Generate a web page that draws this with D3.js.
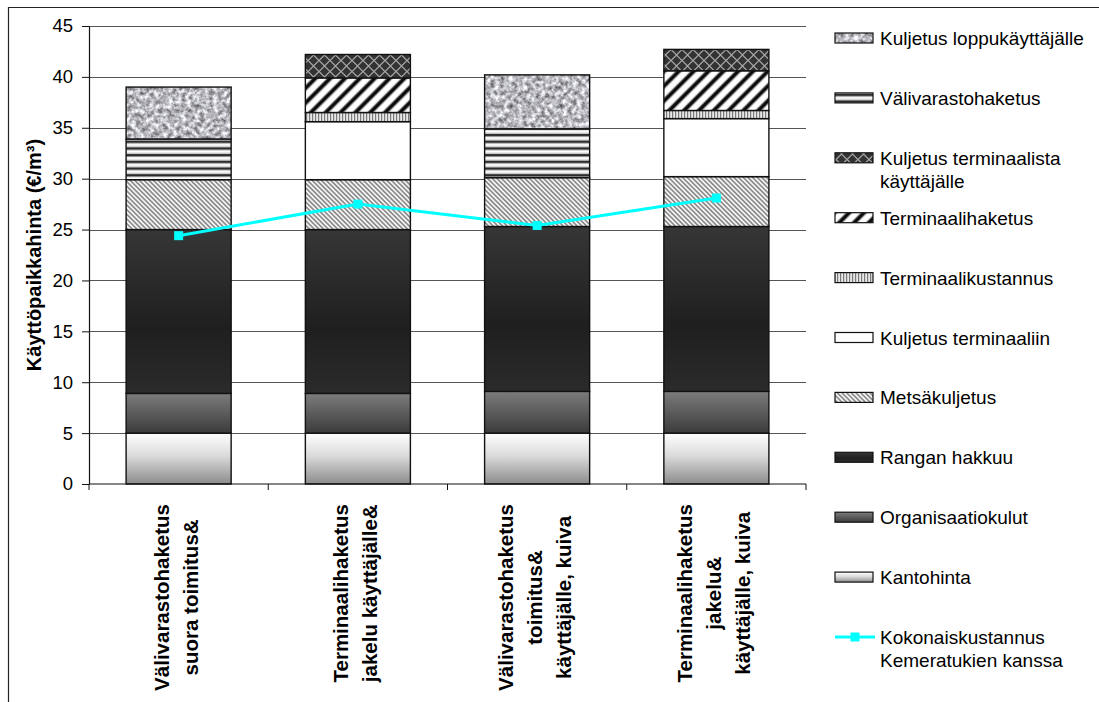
<!DOCTYPE html>
<html>
<head>
<meta charset="utf-8">
<script src="https://cdn.jsdelivr.net/npm/d3@7"></script>
<style>
  html, body { margin: 0; padding: 0; background: #fff; }
  svg { display: block; font-family: "Liberation Sans", Arial, sans-serif; }
</style>
</head>
<body>
<svg id="chart" width="1099" height="702"></svg>
<script>
// Supply chain alternatives (category labels, one entry per line)
const categories = [
  ["Välivarastohaketus", "suora toimitus&"],
  ["Terminaalihaketus", "jakelu käyttäjälle&"],
  ["Välivarastohaketus", "toimitus&", "käyttäjälle, kuiva"],
  ["Terminaalihaketus", "jakelu&", "käyttäjälle, kuiva"]
];

// Cost components, €/m³ (stacked bottom to top)
const kantohinta            = [5.0, 5.0, 5.0, 5.0];
const organisaatiokulut     = [3.9, 3.9, 4.1, 4.1];
const ranganHakkuu          = [16.1, 16.1, 16.2, 16.2];
const metsakuljetus         = [4.9, 4.9, 4.8, 4.9];
const kuljetusTerminaaliin  = [0, 5.7, 0, 5.7];
const terminaalikustannus   = [0, 0.9, 0, 0.8];
const terminaalihaketus     = [0, 3.4, 0, 3.9];
const kuljetusTerminaalista = [0, 2.3, 0, 2.1];
const valivarastohaketus    = [4.0, 0, 4.8, 0];
const kuljetusLoppu         = [5.1, 0, 5.3, 0];

// Total cost including Kemera subsidies
const kokonaiskustannus     = [24.4, 27.5, 25.4, 28.1];

const seriesNames = [
  "Kantohinta", "Organisaatiokulut", "Rangan hakkuu", "Metsäkuljetus",
  "Kuljetus terminaaliin", "Terminaalikustannus", "Terminaalihaketus",
  "Kuljetus terminaalista käyttäjälle", "Välivarastohaketus", "Kuljetus loppukäyttäjälle"
];
const seriesValues = [
  kantohinta, organisaatiokulut, ranganHakkuu, metsakuljetus,
  kuljetusTerminaaliin, terminaalikustannus, terminaalihaketus,
  kuljetusTerminaalista, valivarastohaketus, kuljetusLoppu
];
const lineName = "Kokonaiskustannus Kemeratukien kanssa";
const yTicks = [0, 5, 10, 15, 20, 25, 30, 35, 40, 45];
const yTitle = "Käyttöpaikkahinta (€/m³)";

// ---------- layout ----------
const svg = d3.select("#chart");
const plot = { left: 89, right: 806, top: 26, bottom: 484 };

const x = d3.scaleBand()
  .domain(d3.range(categories.length))
  .range([plot.left, plot.right])
  .paddingInner(0.414)
  .paddingOuter(0.207);

const y = d3.scaleLinear().domain([0, 45]).range([plot.bottom, plot.top]);

// ---------- fills ----------
const defs = svg.append("defs");

function vGrad(id, stops) {
  const g = defs.append("linearGradient").attr("id", id)
    .attr("x1", 0).attr("y1", 0).attr("x2", 0).attr("y2", 1);
  stops.forEach(([o, c]) => g.append("stop").attr("offset", o).attr("stop-color", c));
}
vGrad("g-kanto", [[0, "#ffffff"], [0.45, "#dadada"], [1, "#8c8c8c"]]);
vGrad("g-org", [[0, "#7c7c7c"], [1, "#3b3b3b"]]);
vGrad("g-rangan", [[0, "#363636"], [0.6, "#1f1f1f"], [1, "#2b2b2b"]]);

function stripes(id, size, angle, bands, bg) {
  const p = defs.append("pattern").attr("id", id)
    .attr("patternUnits", "userSpaceOnUse")
    .attr("width", size).attr("height", size)
    .attr("patternTransform", `rotate(${angle})`);
  p.append("rect").attr("width", size).attr("height", size).attr("fill", bg);
  bands.forEach(([bx, bw, c]) => p.append("rect")
    .attr("x", bx).attr("y", 0).attr("width", bw).attr("height", size).attr("fill", c));
  return p;
}
// fine "\" hatch
stripes("p-metsa", 3.3, -45, [[0, 1.6, "#8a8a8a"]], "#f4f4f4");
// thin vertical lines
stripes("p-tkust", 3, 0, [[0, 1.2, "#7a7a7a"]], "#e8e8e8");

// wide soft "/" stripes
const band = defs.append("linearGradient").attr("id", "g-band")
  .attr("x1", 0).attr("y1", 0).attr("x2", 1).attr("y2", 0);
[[0, "#fff"], [0.22, "#fff"], [0.42, "#0a0a0a"], [0.6, "#0a0a0a"], [0.8, "#fff"], [1, "#fff"]]
  .forEach(([o, c]) => band.append("stop").attr("offset", o).attr("stop-color", c));
const pth = defs.append("pattern").attr("id", "p-thak")
  .attr("patternUnits", "userSpaceOnUse").attr("width", 10.5).attr("height", 10.5)
  .attr("patternTransform", "rotate(45)");
pth.append("rect").attr("width", 10.5).attr("height", 10.5).attr("fill", "url(#g-band)");

// horizontal bands
const pv = defs.append("pattern").attr("id", "p-vali")
  .attr("patternUnits", "userSpaceOnUse").attr("width", 10).attr("height", 6.7);
[[0, 6.7, "#ffffff"], [0, 2, "#2c2c2c"], [2, 1, "#8a8a8a"], [5.3, 1.4, "#c4c4c4"]]
  .forEach(([yy, h, c]) => pv.append("rect").attr("x", 0).attr("y", yy)
    .attr("width", 10).attr("height", h).attr("fill", c));

// diamond lattice on dark
const pl = defs.append("pattern").attr("id", "p-lattice")
  .attr("patternUnits", "userSpaceOnUse").attr("width", 11).attr("height", 11);
pl.append("rect").attr("width", 11).attr("height", 11).attr("fill", "#333");
pl.append("path").attr("d", "M0,5.5 L5.5,0 L11,5.5 L5.5,11 Z")
  .attr("fill", "none").attr("stroke", "#aaaaaa").attr("stroke-width", 1.1);

// granite texture
const fg = defs.append("filter").attr("id", "f-granite")
  .attr("x", 0).attr("y", 0).attr("width", 1).attr("height", 1)
  .attr("color-interpolation-filters", "sRGB");
fg.append("feTurbulence").attr("type", "fractalNoise").attr("baseFrequency", 0.22)
  .attr("numOctaves", 3).attr("seed", 7).attr("result", "n");
fg.append("feColorMatrix").attr("in", "n").attr("type", "matrix")
  .attr("values", "1.05 0 0 0 0.2  1.05 0 0 0 0.2  1.08 0 0 0 0.21  0 0 0 0 1")
  .attr("result", "g");
fg.append("feComposite").attr("in", "g").attr("in2", "SourceGraphic").attr("operator", "in");

const fills = [
  { fill: "url(#g-kanto)" },
  { fill: "url(#g-org)" },
  { fill: "url(#g-rangan)" },
  { fill: "url(#p-metsa)" },
  { fill: "#ffffff" },
  { fill: "url(#p-tkust)" },
  { fill: "url(#p-thak)" },
  { fill: "url(#p-lattice)" },
  { fill: "url(#p-vali)" },
  { fill: "#ffffff", filter: "url(#f-granite)" }
];

// ---------- frame ----------
svg.append("path").attr("d", "M8.5,702 L8.5,7.5 L1099,7.5")
  .attr("fill", "none").attr("stroke", "#222").attr("stroke-width", 1.2);

// ---------- gridlines ----------
svg.append("g").selectAll("line").data(yTicks.filter(t => t > 0)).join("line")
  .attr("x1", plot.left).attr("x2", plot.right)
  .attr("y1", d => Math.round(y(d)) + 0.5).attr("y2", d => Math.round(y(d)) + 0.5)
  .attr("stroke", "#555").attr("stroke-width", 1);

// ---------- stacked bars ----------
const table = categories.map((c, i) => {
  const row = { idx: i };
  seriesNames.forEach((n, k) => row[n] = seriesValues[k][i]);
  return row;
});
const stacked = d3.stack().keys(seriesNames)(table);

const barsG = svg.append("g");
stacked.forEach((layer, k) => {
  const g = barsG.append("g");
  const segs = layer.filter(d => d[1] - d[0] > 0);
  g.selectAll("rect.f").data(segs).join("rect").attr("class", "f")
    .attr("x", d => x(d.data.idx)).attr("width", x.bandwidth())
    .attr("y", d => y(d[1])).attr("height", d => y(d[0]) - y(d[1]))
    .attr("fill", fills[k].fill)
    .attr("filter", fills[k].filter || null);
  g.selectAll("rect.o").data(segs).join("rect").attr("class", "o")
    .attr("x", d => x(d.data.idx)).attr("width", x.bandwidth())
    .attr("y", d => y(d[1])).attr("height", d => y(d[0]) - y(d[1]))
    .attr("fill", "none").attr("stroke", "#111").attr("stroke-width", 1.4);
});

// ---------- axes ----------
const yAxis = svg.append("g").attr("transform", `translate(${plot.left},0)`)
  .call(d3.axisLeft(y).tickValues(yTicks).tickSize(7).tickSizeOuter(0).tickPadding(9));
yAxis.select(".domain").attr("stroke", "#111").attr("stroke-width", 1.2);
yAxis.selectAll(".tick line").attr("stroke", "#111");
yAxis.selectAll(".tick text").attr("font-size", 18.5).attr("fill", "#000")
  .attr("font-family", "'Liberation Sans', Arial, sans-serif");

svg.append("line").attr("x1", plot.left).attr("x2", plot.right)
  .attr("y1", plot.bottom).attr("y2", plot.bottom)
  .attr("stroke", "#111").attr("stroke-width", 1.2);
svg.append("g").selectAll("line").data(d3.range(categories.length + 1)).join("line")
  .attr("x1", i => plot.left + i * x.step()).attr("x2", i => plot.left + i * x.step())
  .attr("y1", plot.bottom).attr("y2", plot.bottom + 6)
  .attr("stroke", "#111").attr("stroke-width", 1);

// category labels, rotated, lines centred on the longest line
const labelTop = 504, lineGap = 29;
const xl = svg.append("g").attr("font-weight", "bold").attr("font-size", 20.5).attr("fill", "#000");
categories.forEach((lines, i) => {
  const cx = x(i) + x.bandwidth() / 2 - 3;
  const texts = lines.map((t, j) => xl.append("text").text(t)
    .attr("text-anchor", "middle").attr("dominant-baseline", "central"));
  const maxW = d3.max(texts, t => t.node().getComputedTextLength());
  texts.forEach((t, j) => {
    const lx = cx + (j - (lines.length - 1) / 2) * lineGap;
    t.attr("transform", `translate(${lx},${labelTop + maxW / 2}) rotate(-90)`);
  });
});

// y title
svg.append("text").text(yTitle)
  .attr("transform", `translate(34,${(plot.top + plot.bottom) / 2}) rotate(-90)`)
  .attr("text-anchor", "middle").attr("dominant-baseline", "central")
  .attr("font-weight", "bold").attr("font-size", 20).attr("fill", "#000");

// ---------- total cost line ----------
const cxOf = i => x(i) + x.bandwidth() / 2;
svg.append("path").datum(kokonaiskustannus)
  .attr("d", d3.line().x((d, i) => cxOf(i)).y(d => y(d)))
  .attr("fill", "none").attr("stroke", "#00ffff").attr("stroke-width", 3);
svg.append("g").selectAll("rect").data(kokonaiskustannus).join("rect")
  .attr("x", (d, i) => cxOf(i) - 4.5).attr("y", d => y(d) - 4.5)
  .attr("width", 9).attr("height", 9).attr("fill", "#00ffff");

// ---------- legend ----------
const leg = svg.append("g").attr("font-size", 19).attr("fill", "#000");
const legX = 835, legTextX = 880, legY0 = 38, legStep = 59.9, legMaxW = 212, legLine = 23;

function wrapLines(str) {
  const words = str.split(" ");
  const probe = leg.append("text").attr("visibility", "hidden");
  const out = [];
  let cur = "";
  words.forEach(w => {
    const test = cur ? cur + " " + w : w;
    probe.text(test);
    if (cur && probe.node().getComputedTextLength() > legMaxW) { out.push(cur); cur = w; }
    else cur = test;
  });
  out.push(cur);
  probe.remove();
  return out;
}
function legendText(yy, name) {
  const t = leg.append("text").attr("x", legTextX).attr("y", yy).attr("dominant-baseline", "central");
  wrapLines(name).forEach((ln, j) => t.append("tspan").attr("x", legTextX)
    .attr("y", yy + j * legLine).text(ln));
}

const order = d3.range(seriesNames.length).reverse();
order.forEach((k, pos) => {
  const yy = legY0 + pos * legStep;
  leg.append("rect").attr("x", legX).attr("y", yy - 5).attr("width", 38).attr("height", 10)
    .attr("fill", fills[k].fill).attr("filter", fills[k].filter || null);
  leg.append("rect").attr("x", legX).attr("y", yy - 5).attr("width", 38).attr("height", 10)
    .attr("fill", "none").attr("stroke", "#111").attr("stroke-width", 1.2);
  legendText(yy, seriesNames[k]);
});
{
  const yy = legY0 + seriesNames.length * legStep;
  leg.append("line").attr("x1", legX).attr("x2", legX + 40).attr("y1", yy).attr("y2", yy)
    .attr("stroke", "#00ffff").attr("stroke-width", 3);
  leg.append("rect").attr("x", legX + 20 - 4.5).attr("y", yy - 4.5).attr("width", 9).attr("height", 9)
    .attr("fill", "#00ffff");
  legendText(yy, lineName);
}
</script>
</body>
</html>
